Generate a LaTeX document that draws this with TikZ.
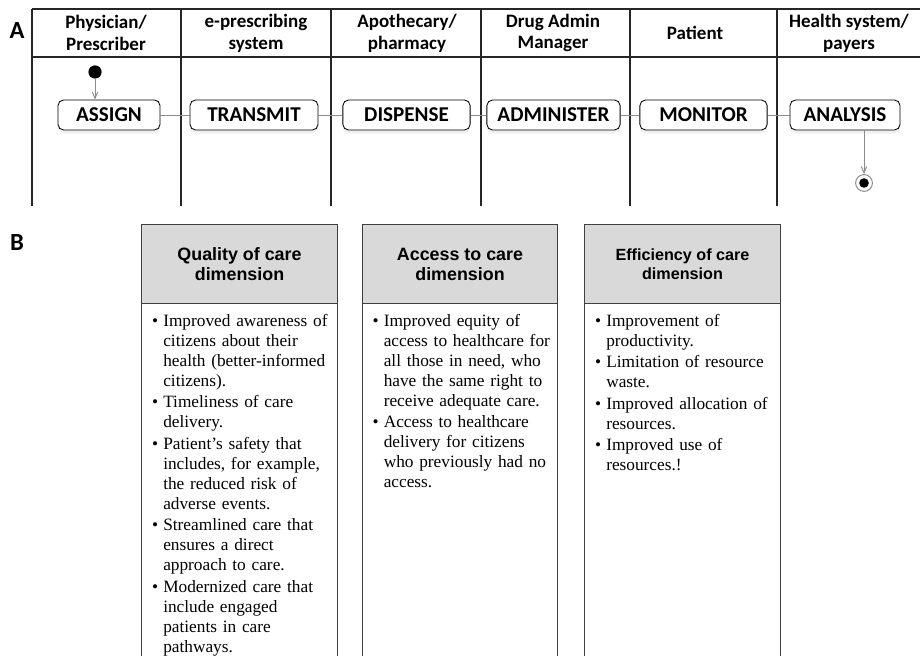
\documentclass[tikz,border=0pt]{standalone}
\usepackage{fontspec}
\setmainfont{Liberation Serif}
\newfontfamily\lanefont{Carlito}
\newfontfamily\headfont{Liberation Sans}
\usetikzlibrary{arrows}
\usetikzlibrary{shapes}
\usetikzlibrary{shadows}
\usetikzlibrary{backgrounds,positioning}

\newenvironment{carelist}{\begin{list}{\textbullet}{%
  \setlength{\leftmargin}{0.375cm}\setlength{\labelsep}{0.13cm}%
  \setlength{\labelwidth}{0.2cm}\setlength{\topsep}{0pt}%
  \setlength{\partopsep}{0pt}\setlength{\parsep}{0pt}%
  \setlength{\itemsep}{1.1pt}}\raggedright}{\end{list}}

\begin{document}
\begin{tikzpicture}[x=0.025cm,y=-0.025cm,
    lane/.style={line width=1.1pt,black!85},
    part/.style={font=\lanefont\bfseries\fontsize{17.5}{20}\selectfont},
    lanehead/.style={font=\lanefont\bfseries\fontsize{13.5}{15.5}\selectfont,align=center},
    activity/.style={draw,rounded corners=4pt,line width=0.6pt,fill=white,
      minimum height=0.75cm,inner sep=1pt,
      font=\lanefont\bfseries\fontsize{15}{18}\selectfont,
      drop shadow={opacity=0.12,shadow xshift=0pt,shadow yshift=-2.5pt}},
    flow/.style={draw=black!45,line width=0.7pt,>=angle 45},
    start/.style={circle,fill=black,inner sep=0pt,minimum size=0.33cm},
    final/.style={circle,draw=black!45,line width=0.7pt,fill=white,inner sep=0pt,
      minimum size=0.42cm,path picture={\fill[black] (path picture bounding box.center) circle (0.12cm);}},
    dimhead/.style={draw=black!75,line width=0.7pt,fill=black!15,minimum width=4.875cm,
      minimum height=1.95cm,outer sep=0pt,align=center,
      font=\headfont\bfseries\fontsize{12.7}{14.2}\selectfont},
    dimbody/.style={draw=black!75,line width=0.7pt,minimum width=4.875cm,
      minimum height=9cm,outer sep=0pt},
    dimtext/.style={inner sep=0pt,text width=4.6cm,anchor=north west,align=left,
      font=\fontsize{12.3}{14.2}\selectfont}]
  \path[use as bounding box] (0,0) rectangle (920,656);
  \clip (0,0) rectangle (920,656);

  % part A: swim lanes
  \node[part] (A) at (17,31) {A};
  \draw[lane] (32,9) -- (920,9);
  \draw[lane] (32,57) -- (920,57);
  \foreach \x in {32,181,331,481,630,777}
    \draw[lane] (\x,9) -- (\x,206);

  \node[lanehead] (phys)  at (106,33) {Physician/\\Prescriber};
  \node[lanehead] (erx)   at (256,33) {e-prescribing\\system};
  \node[lanehead] (pharm) at (407,33) {Apothecary/\\pharmacy};
  \node[lanehead] (dam)   at (553,33) {Drug Admin\\Manager};
  \node[lanehead] (pat)   at (695,33) {Patient};
  \node[lanehead] (hsys)  at (849,33) {Health system/\\payers};

  \node[activity,minimum width=2.55cm] (assign)     at (109,115)   {ASSIGN};
  \node[activity,minimum width=3.2cm]  (transmit)   at (254,115)   {TRANSMIT};
  \node[activity,minimum width=3.18cm] (dispense)   at (406.5,115) {DISPENSE};
  \node[activity,minimum width=3.33cm] (administer) at (553.5,115) {ADMINISTER};
  \node[activity,minimum width=3.18cm] (monitor)    at (703.5,115) {MONITOR};
  \node[activity,minimum width=2.75cm] (analysis)   at (845,115)   {ANALYSIS};

  \node[start] (init) at (95,72) {};
  \node[final] (fin)  at (864,183) {};

  \draw[flow,->] (init) -- (init |- assign.north);
  \draw[flow] (assign) -- (transmit);
  \draw[flow] (transmit) -- (dispense);
  \draw[flow] (dispense) -- (administer);
  \draw[flow] (administer) -- (monitor);
  \draw[flow] (monitor) -- (analysis);
  \draw[flow,->] (fin |- analysis.south) -- (fin);

  % part B: dimensions
  \node[part] (B) at (17,243) {B};

  \node[dimhead] (qhead) at (239.5,264) {Quality of care\\dimension};
  \node[dimbody,below=0pt of qhead] (qbody) {};
  \node[dimtext] (qtext) at ([xshift=0.15cm,yshift=-0.08cm]qbody.north west) {%
    \begin{carelist}
      \item Improved awareness of\\citizens about their\\health (better-informed\\citizens).
      \item Timeliness of care\\delivery.
      \item Patient’s safety that\\includes, for example,\\the reduced risk of\\adverse events.
      \item Streamlined care that\\ensures a direct\\approach to care.
      \item Modernized care that\\include engaged\\patients in care\\pathways.
    \end{carelist}};

  \node[dimhead] (ahead) at (460,264) {Access to care\\dimension};
  \node[dimbody,below=0pt of ahead] (abody) {};
  \node[dimtext] (atext) at ([xshift=0.15cm,yshift=-0.08cm]abody.north west) {%
    \begin{carelist}
      \item Improved equity of\\access to healthcare for\\all those in need, who\\have the same right to\\receive adequate care.
      \item Access to healthcare\\delivery for citizens\\who previously had no\\access.
    \end{carelist}};

  \node[dimhead,font=\headfont\bfseries\fontsize{11.5}{13.3}\selectfont] (ehead) at (682.5,264) {Efficiency of care\\dimension};
  \node[dimbody,below=0pt of ehead] (ebody) {};
  \node[dimtext] (etext) at ([xshift=0.15cm,yshift=-0.08cm]ebody.north west) {%
    \begin{carelist}
      \item Improvement of\\productivity.
      \item Limitation of resource\\waste.
      \item Improved allocation of\\resources.
      \item Improved use of\\resources.!
    \end{carelist}};
\end{tikzpicture}
\end{document}
